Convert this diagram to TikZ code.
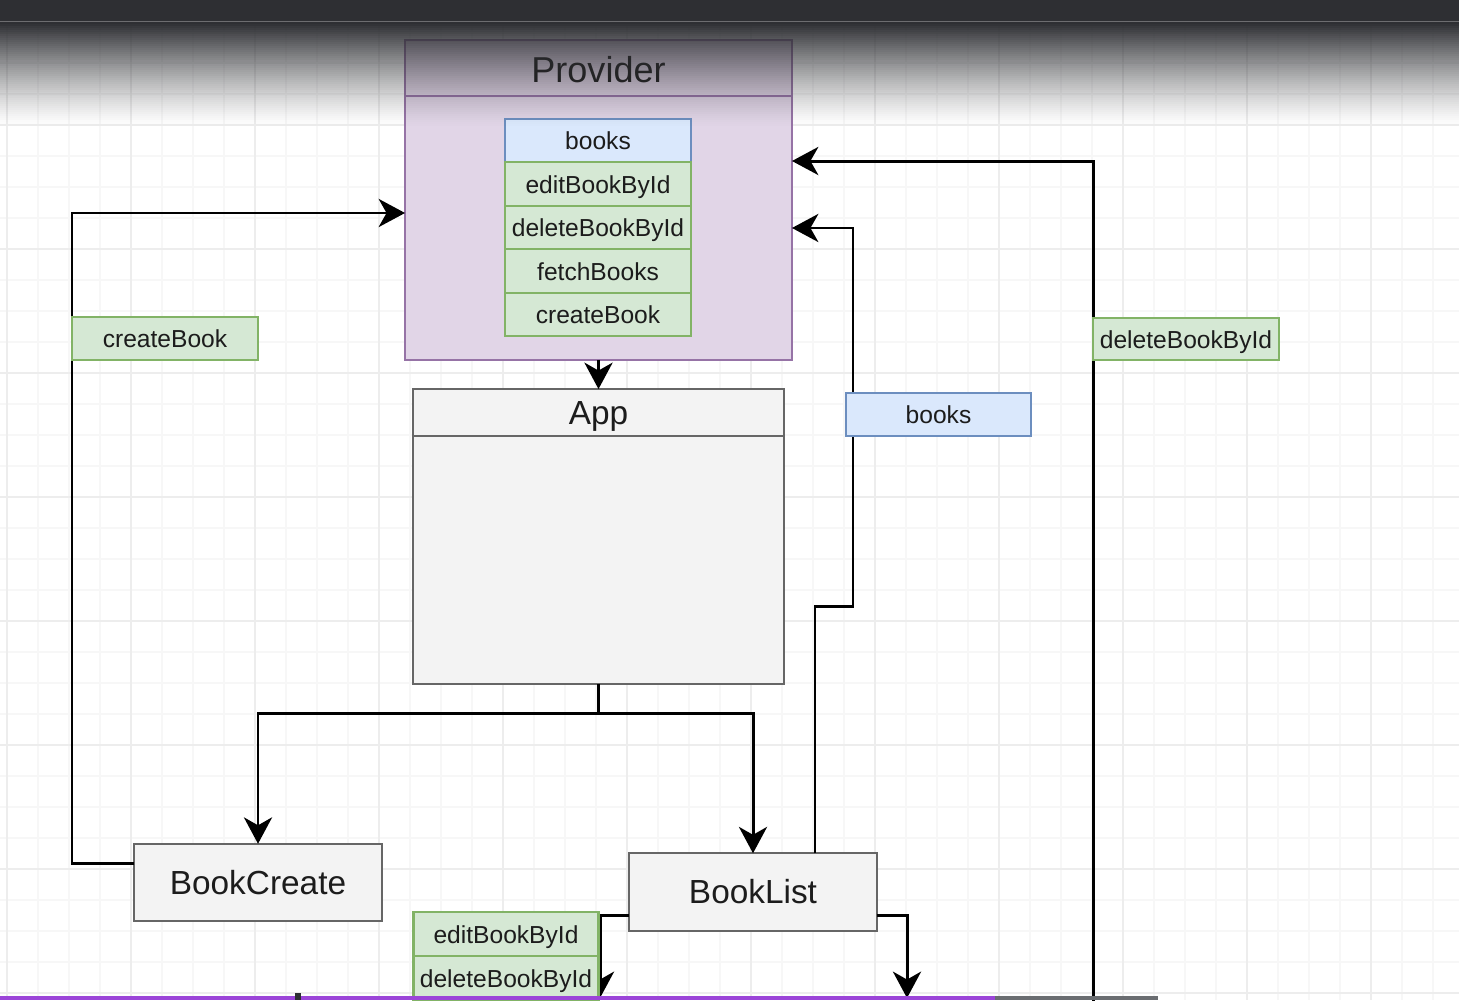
\documentclass[tikz,border=0pt]{standalone}
\usepackage{fontspec}
\setmainfont{Liberation Sans}
\usetikzlibrary{positioning,arrows.meta}
\definecolor{provfill}{HTML}{E1D5E7}
\definecolor{provline}{HTML}{9673A6}
\definecolor{bluefill}{HTML}{DAE8FC}
\definecolor{blueline}{HTML}{6C8EBF}
\definecolor{greenfill}{HTML}{D5E8D4}
\definecolor{greenline}{HTML}{82B366}
\definecolor{compfill}{HTML}{F3F3F3}
\definecolor{compline}{HTML}{666666}
\definecolor{gridminor}{HTML}{F7F7F7}
\definecolor{gridmajor}{HTML}{EDEDED}
\definecolor{topbar}{HTML}{2E2F33}
\definecolor{progress}{HTML}{9B45D8}
\definecolor{buffered}{HTML}{6A6D71}
\definecolor{ink}{HTML}{1C1C1C}

\begin{document}
\begin{tikzpicture}[x=0.02cm,y=-0.02cm,
    flow/.style={line width=1.7pt,-{Stealth[length=15pt,width=16pt,inset=4.5pt]}},
    box/.style={line width=1.3pt,outer sep=0pt,inner sep=0pt,text=ink},
    bigtext/.style={font=\fontsize{19}{22}\selectfont,text height=18pt,text depth=4.8pt},
    comp/.style={box,draw=compline,fill=compfill,minimum width=4.96cm,minimum height=1.55cm,bigtext},
    item/.style={box,minimum width=3.72cm,minimum height=0.87cm,font=\fontsize{14}{16}\selectfont,text height=13.5pt,text depth=3pt},
    greenitem/.style={item,draw=greenline,fill=greenfill},
    blueitem/.style={item,draw=blueline,fill=bluefill}]

  \path[use as bounding box,clip] (0,0) rectangle (1459,1000);
  \fill[white] (0,0) rectangle (1459,1000);
  \foreach \gx in {7,38,...,1459} \draw[gridminor,line width=0.6pt] (\gx,0) -- (\gx,1000);
  \foreach \gy in {1,32,...,1000} \draw[gridminor,line width=0.6pt] (0,\gy) -- (1459,\gy);
  \foreach \gx in {7,131,...,1459} \draw[gridmajor,line width=0.6pt] (\gx,0) -- (\gx,1000);
  \foreach \gy in {1,125,...,1000} \draw[gridmajor,line width=0.6pt] (0,\gy) -- (1459,\gy);

  \node (prov) at (598.5,200) [box,draw=provline,fill=provfill,minimum width=7.74cm,minimum height=6.4cm]{};
  \node (provhead) [box,draw=provline,minimum width=7.74cm,minimum height=1.12cm,below=0pt of prov.north,font=\fontsize{20.5}{24}\selectfont,text height=21pt,text depth=4pt]{Provider};
  \node (pbooks) at (598,140.5) [blueitem]{books};
  \node (pedit) [greenitem,below=0pt of pbooks]{editBookById};
  \node (pdel) [greenitem,below=0pt of pedit]{deleteBookById};
  \node (pfetch) [greenitem,below=0pt of pdel]{fetchBooks};
  \node (pcreate) [greenitem,below=0pt of pfetch]{createBook};

  \node (app) at (598.5,536.5) [box,draw=compline,fill=compfill,minimum width=7.42cm,minimum height=5.9cm]{};
  \node (apphead) [box,draw=compline,minimum width=7.42cm,minimum height=0.94cm,below=0pt of app.north,bigtext]{App};

  \node (bc) at (258,882.5) [comp]{BookCreate};
  \node (bl) at (753,892) [comp]{BookList};

  \coordinate (dbot) at (1093,1003);
  \coordinate (blright) at (907,998);
  \coordinate (blleft) at (600,998);

  \draw[flow] (prov.south) -- (app.north);
  \draw[flow] (app.south) -- ++(0,30) -| (bc.north);
  \draw[flow] (app.south) -- ++(0,30) -| (bl.north);
  \draw[flow] ([yshift=0.38cm]bc.west) -| (72,338.5) |- ([yshift=-0.26cm]prov.west);
  \draw[flow] ([xshift=1.24cm]bl.north) -- ++(0,-247) -- ++(38,0) |- ([yshift=-0.56cm]prov.east);
  \draw[flow] (dbot) |- ([yshift=0.78cm]prov.east);
  \draw[flow] ([yshift=-0.46cm]bl.east) -| (blright);
  \draw[flow] ([yshift=-0.46cm]bl.west) -| (blleft);

  \node (createlbl) at (165,338.5) [greenitem,minimum height=0.86cm]{createBook};
  \node (bookslbl) at (938.5,414.5) [blueitem,minimum width=3.7cm,minimum height=0.86cm]{books};
  \node (dellbl) at (1186,339) [greenitem,minimum height=0.84cm]{deleteBookById};
  \node (bedit) at (506,934) [greenitem,minimum width=3.7cm,minimum height=0.88cm]{editBookById};
  \node (bdel) [greenitem,minimum width=3.7cm,minimum height=0.88cm,below=0pt of bedit]{deleteBookById};

  \fill[topbar] (0,0) rectangle (1459,21);
  \draw[topbar!70!white,line width=0.6pt] (0,21.5) -- (1459,21.5);
  \foreach \k in {0,...,51} {
    \pgfmathsetmacro\shadeop{(1-\k/52)^1.3}
    \fill[topbar,opacity=\shadeop] (0,22+2*\k) rectangle (1459,24+2*\k);
  }

  \fill[progress] (0,996) rectangle (995,1000);
  \fill[buffered] (995,996) rectangle (1158,1000);
  \fill[topbar] (295,993) rectangle (301,1000);
\end{tikzpicture}
\end{document}
